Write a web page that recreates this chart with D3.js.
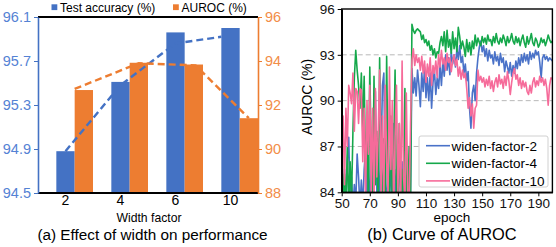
<!DOCTYPE html>
<html>
<head>
<meta charset="utf-8">
<script src="https://cdn.jsdelivr.net/npm/d3@7"></script>
<style>
  body { margin: 0; background: #fff; }
  svg { display: block; font-family: "Liberation Sans", Arial, sans-serif; }
</style>
</head>
<body>
<svg id="chart" width="556" height="247"></svg>
<script>
// (a) width factor vs performance
const widthFactors = ["2", "4", "6", "10"];
const testAcc = [94.88, 95.51, 95.96, 96.0];
const aurocBar = [92.68, 93.92, 93.84, 91.4];
const accTrend = [94.88, 95.48, 95.86, 95.92];
const aurocTrend = [92.73, 93.9, 93.8, 91.4];
const accTicks = [94.5, 94.9, 95.3, 95.7, 96.1];
const aurocTicks = [88, 90, 92, 94, 96];

// (b) AUROC curves, epochs 50..200
const epochs = d3.range(50, 201);
const wf2 = [
  84.5, 83.0, 85.5, 83.0, 86.0, 87.6, 83.5, 85.0, 83.0, 84.5,
  83.2, 86.5, 85.0, 83.0, 84.8, 83.0, 85.5, 86.8, 83.5, 86.3,
  83.0, 85.8, 83.0, 88.0, 90.6, 84.0, 87.5, 83.0, 86.0, 91.0,
  91.8, 84.5, 83.0, 87.0, 83.5, 86.0, 83.0, 88.5, 83.2, 85.5,
  83.0, 87.2, 83.5, 86.0, 83.0, 85.0, 83.0, 84.5, 83.0, 84.0,
  92.1, 90.5, 91.5, 90.3, 92.0, 91.0, 89.6, 91.8, 90.6, 92.2,
  90.2, 91.5, 90.0, 91.8, 89.5, 91.2, 92.0, 90.4, 91.5, 90.8,
  92.3, 91.0, 92.6, 91.6, 93.0, 92.0, 92.8, 91.7, 93.2, 92.4,
  93.0, 92.2, 93.4, 92.7, 93.6, 92.5, 92.9, 91.8, 92.4, 91.3,
  91.9, 89.5, 88.2, 90.5, 91.0, 90.0, 91.8, 92.8, 93.5, 93.9,
  93.2, 93.6, 92.9, 93.4, 92.6, 93.3, 92.8, 93.0, 92.4, 93.2,
  92.6, 92.9, 92.3, 93.1, 92.5, 92.8, 91.9, 92.6, 92.2, 91.8,
  92.5, 91.6, 92.3, 91.8, 92.6, 92.1, 92.8, 92.3, 93.0, 92.5,
  93.1, 92.6, 93.0, 92.4, 93.2, 92.7, 93.1, 92.8, 93.3, 93.0,
  93.2, 92.5, 91.5, 92.8, 93.0, 92.7, 92.9, 92.6, 92.8, 92.7,
  92.6
];
const wf4 = [
  88.5, 83.5, 85.2, 83.0, 87.0, 83.2, 86.0, 83.5, 88.0, 91.5,
  93.3, 92.0, 91.0, 89.5, 91.8, 88.0, 91.6, 85.0, 88.5, 83.0,
  92.2, 86.5, 83.0, 91.6, 84.5, 88.0, 83.0, 92.8, 86.0, 83.2,
  87.5, 83.0, 92.9, 85.5, 83.0, 89.0, 83.5, 86.5, 92.0, 84.0,
  83.0, 88.5, 83.5, 85.5, 83.0, 90.8, 84.5, 83.0, 87.0, 83.5,
  95.0, 94.6, 94.4, 94.6, 94.7, 94.6, 94.5, 94.0, 94.3, 93.8,
  94.0, 93.6, 93.9, 93.3, 93.6, 93.0, 93.4, 92.8, 93.2, 93.1,
  93.8, 94.2, 93.6, 94.5, 93.2, 94.6, 93.5, 94.0, 93.1, 94.5,
  93.4, 94.1, 93.2, 94.8, 94.2, 93.4, 93.9, 93.5, 92.9, 94.0,
  93.2, 93.8, 93.0, 93.9, 93.4, 94.3, 93.6, 94.1, 93.8, 93.6,
  94.2, 93.8, 94.1, 93.7, 94.3, 93.9, 94.0, 93.6, 94.2, 93.8,
  94.4, 93.9, 93.7, 94.1, 93.8, 94.3, 94.0, 93.6, 94.2, 93.8,
  94.0, 94.4, 93.9, 93.7, 94.2, 93.8, 94.1, 93.6, 94.0, 94.3,
  93.8, 93.5, 94.2, 93.7, 94.0, 94.4, 93.8, 93.6, 94.1, 93.9,
  93.5, 93.7, 94.1, 93.8, 94.0, 93.6, 93.9, 94.3, 94.0, 93.8,
  93.9
];
const wf10 = [
  85.5, 89.0, 84.5, 89.5, 87.0, 91.0, 90.5, 89.8, 91.8, 88.0,
  90.8, 90.6, 88.5, 90.8, 90.7, 86.0, 89.5, 83.5, 90.0, 86.5,
  91.0, 84.0, 89.5, 83.5, 90.8, 85.0, 88.0, 92.0, 84.0, 89.0,
  83.5, 91.0, 86.0, 84.0, 92.2, 85.5, 90.0, 83.0, 87.5, 91.0,
  84.0, 88.5, 83.0, 92.6, 85.0, 83.5, 90.5, 84.0, 83.0, 88.5,
  92.6, 93.4, 92.3, 93.0, 92.5, 92.8, 92.0, 92.9, 91.8, 92.6,
  91.2, 92.4, 91.6, 92.8, 91.0, 92.3, 91.8, 92.6, 91.5, 93.0,
  92.2, 93.3, 92.4, 92.8, 92.0, 93.1, 92.5, 92.8, 91.9, 92.6,
  93.0, 92.3, 92.7, 91.6, 92.2, 91.4, 92.0, 91.5, 91.8, 90.8,
  89.5, 90.2, 89.0, 89.8, 88.2, 89.5, 89.7, 92.0, 91.3, 91.6,
  91.2, 91.5, 90.9, 91.4, 91.0, 91.6, 90.8, 91.3, 90.6, 91.2,
  91.5, 90.9, 91.7, 91.1, 91.4, 90.8, 91.6, 91.0, 91.9, 91.3,
  90.4, 91.2, 91.8, 92.1, 91.4, 91.7, 91.0, 91.5, 90.8, 91.3,
  90.9, 91.2, 90.6, 90.4, 91.0, 90.5, 91.2, 91.5, 90.9, 91.3,
  91.0, 91.6, 91.2, 91.5, 91.0, 91.4, 90.8, 89.7, 91.0, 91.5,
  91.4
];
const aurocTicksB = [84, 87, 90, 93, 96];
const epochTicks = [50, 70, 90, 110, 130, 150, 170, 190];

const svg = d3.select("#chart");
const blue = "#4472c4", orange = "#ed7d31";
const blueText = "#5482d4", orangeText = "#f28d48";

// ---------- panel (a) ----------
const a = { left: 38, right: 258, top: 17, bottom: 193 };

const xBand = d3.scaleBand().domain(widthFactors).range([a.left, a.right]);
const bw = xBand.bandwidth() / 3;
const cx = c => xBand(c) + xBand.bandwidth() / 2;
const yAcc = d3.scaleLinear().domain([94.5, 96.1]).range([a.bottom, a.top]);
const yAur = d3.scaleLinear().domain([88, 96]).range([a.bottom, a.top]);

svg.selectAll(".bar-acc")
  .data(widthFactors)
  .enter().append("rect")
  .attr("x", (d, i) => cx(d) - bw / 2)
  .attr("y", (d, i) => yAcc(testAcc[i]))
  .attr("width", bw)
  .attr("height", (d, i) => a.bottom - yAcc(testAcc[i]))
  .attr("fill", blue);

svg.selectAll(".bar-aur")
  .data(widthFactors)
  .enter().append("rect")
  .attr("x", (d, i) => cx(d) + bw / 2)
  .attr("y", (d, i) => yAur(aurocBar[i]))
  .attr("width", bw)
  .attr("height", (d, i) => a.bottom - yAur(aurocBar[i]))
  .attr("fill", orange);

// dashed trend lines
const accOff = [0, 0, 0, -0.5];
const aurOff = [0.5, 1, 1.1, 1];
svg.append("path")
  .datum(widthFactors)
  .attr("fill", "none").attr("stroke", blue).attr("stroke-width", 2.4)
  .attr("stroke-dasharray", "7,4")
  .attr("d", d3.line()
    .x((d, i) => cx(d) + accOff[i] * bw)
    .y((d, i) => yAcc(accTrend[i])));
svg.append("path")
  .datum(widthFactors)
  .attr("fill", "none").attr("stroke", orange).attr("stroke-width", 2.4)
  .attr("stroke-dasharray", "7,4")
  .attr("d", d3.line()
    .x((d, i) => cx(d) + aurOff[i] * bw)
    .y((d, i) => yAur(aurocTrend[i])));

// frame lines
svg.append("line").attr("x1", a.left).attr("x2", a.right)
  .attr("y1", a.top).attr("y2", a.top).attr("stroke", "#000").attr("stroke-width", 1.8);
svg.append("line").attr("x1", a.left).attr("x2", a.right)
  .attr("y1", a.bottom).attr("y2", a.bottom).attr("stroke", "#000").attr("stroke-width", 1.8);

const axL = svg.append("g")
  .attr("transform", `translate(${a.left},0)`)
  .call(d3.axisLeft(yAcc).tickValues(accTicks).tickFormat(d3.format(".1f")).tickSize(4).tickSizeOuter(0));
axL.select(".domain").attr("stroke", blue).attr("stroke-width", 1.6);
axL.selectAll(".tick line").attr("stroke", blue);
axL.selectAll("text").attr("fill", blueText).attr("font-size", 14.5).attr("font-family", "Liberation Sans, Arial, sans-serif");

const axR = svg.append("g")
  .attr("transform", `translate(${a.right},0)`)
  .call(d3.axisRight(yAur).tickValues(aurocTicks).tickSize(4).tickSizeOuter(0));
axR.select(".domain").attr("stroke", orange).attr("stroke-width", 1.6);
axR.selectAll(".tick line").attr("stroke", orange);
axR.selectAll("text").attr("fill", orangeText).attr("font-size", 14.5).attr("font-family", "Liberation Sans, Arial, sans-serif");

svg.selectAll(".xlab-a")
  .data(widthFactors)
  .enter().append("text")
  .attr("x", d => cx(d)).attr("y", 205)
  .attr("text-anchor", "middle").attr("font-size", 14)
  .text(d => d);

svg.append("text").attr("x", 149).attr("y", 222)
  .attr("text-anchor", "middle").attr("font-size", 12.2).text("Width factor");
svg.append("text").attr("x", 152.5).attr("y", 239.5)
  .attr("text-anchor", "middle").attr("font-size", 15.3).text("(a) Effect of width on performance");

// legend (a)
const legA = [
  { label: "Test accuracy (%)", color: blue, x: 51.5 },
  { label: "AUROC (%)", color: orange, x: 173 }
];
legA.forEach(l => {
  svg.append("rect").attr("x", l.x).attr("y", 4.3).attr("width", 5.8).attr("height", 5.8).attr("fill", l.color);
  svg.append("text").attr("x", l.x + 8.5).attr("y", 12).attr("font-size", 12).text(l.label);
});

// ---------- panel (b) ----------
const b = { left: 341.7, right: 552.4, top: 9, bottom: 192.3 };
const xEp = d3.scaleLinear().domain([50, 200]).range([b.left, b.right]);
const yB = d3.scaleLinear().domain([84, 96]).range([b.bottom, b.top]);

svg.append("defs").append("clipPath").attr("id", "clipB")
  .append("rect").attr("x", b.left).attr("y", b.top)
  .attr("width", b.right - b.left).attr("height", b.bottom - b.top);

svg.append("g").selectAll("line")
  .data([87, 90, 93])
  .enter().append("line")
  .attr("x1", b.left).attr("x2", b.right)
  .attr("y1", d => yB(d)).attr("y2", d => yB(d))
  .attr("stroke", "#b8b8b8").attr("stroke-width", 1).attr("stroke-dasharray", "5,3");

const series = [
  { name: "widen-factor-2", values: wf2, color: "#4a72c8" },
  { name: "widen-factor-4", values: wf4, color: "#15a84b" },
  { name: "widen-factor-10", values: wf10, color: "#f66b9a" }
];
const lineB = d3.line().x((d, i) => xEp(epochs[i])).y(d => yB(d));
const curves = svg.append("g").attr("clip-path", "url(#clipB)");
[series[0], series[1], series[2]].forEach(s => {
  curves.append("path").datum(s.values)
    .attr("fill", "none").attr("stroke", s.color).attr("stroke-width", 1.6)
    .attr("stroke-linejoin", "round")
    .attr("d", lineB);
});

// frame
svg.append("rect").attr("x", b.left).attr("y", b.top)
  .attr("width", b.right - b.left).attr("height", b.bottom - b.top)
  .attr("fill", "none").attr("stroke", "#000").attr("stroke-width", 1.4);

const axBL = svg.append("g").attr("transform", `translate(${b.left},0)`)
  .call(d3.axisLeft(yB).tickValues(aurocTicksB).tickSize(4).tickSizeOuter(0));
axBL.select(".domain").attr("stroke-width", 1.6);
axBL.selectAll("text").attr("font-size", 13.5).attr("fill", "#111").attr("font-family", "Liberation Sans, Arial, sans-serif");

const axBB = svg.append("g").attr("transform", `translate(0,${b.bottom})`)
  .call(d3.axisBottom(xEp).tickValues(epochTicks).tickSize(4).tickSizeOuter(0));
axBB.select(".domain").attr("stroke-width", 1.6);
axBB.selectAll("text").attr("font-size", 13.5).attr("fill", "#111").attr("dy", "0.62em").attr("font-family", "Liberation Sans, Arial, sans-serif");

svg.append("text").attr("transform", "translate(312,97) rotate(-90)")
  .attr("text-anchor", "middle").attr("font-size", 14).text("AUROC (%)");
svg.append("text").attr("x", 452).attr("y", 222)
  .attr("text-anchor", "middle").attr("font-size", 13.5).text("epoch");
svg.append("text").attr("x", 442).attr("y", 240)
  .attr("text-anchor", "middle").attr("font-size", 16.4).text("(b) Curve of AUROC");

// legend (b)
const legB = svg.append("g");
legB.append("rect").attr("x", 419).attr("y", 136).attr("width", 129).attr("height", 51)
  .attr("rx", 2).attr("fill", "#fff").attr("stroke", "#d0d0d0").attr("stroke-width", 1);
series.forEach((s, i) => {
  const y = 145.7 + i * 17.6;
  legB.append("line").attr("x1", 426).attr("x2", 450).attr("y1", y).attr("y2", y)
    .attr("stroke", s.color).attr("stroke-width", 1.6);
  legB.append("text").attr("x", 451.5).attr("y", y + 4.8).attr("font-size", 13.5).text(s.name);
});
</script>
</body>
</html>
